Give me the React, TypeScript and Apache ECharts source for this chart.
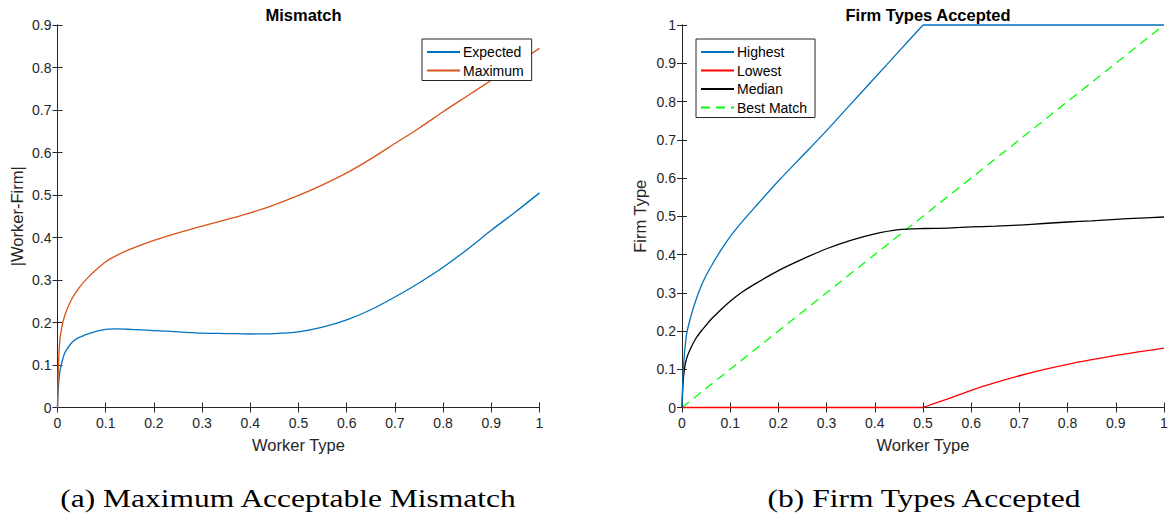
import React, { useEffect, useRef } from 'react';
import * as echarts from 'echarts';

// left panel: mismatch vs worker type
const mismatchX = [0, 0.002, 0.005, 0.01, 0.015, 0.02, 0.03, 0.04, 0.05, 0.06, 0.08, 0.1, 0.125, 0.15, 0.2, 0.25, 0.3, 0.35, 0.4, 0.45, 0.5, 0.55, 0.6, 0.65, 0.7, 0.75, 0.8, 0.85, 0.9, 0.95, 1];
const expected = [0, 0.05, 0.085, 0.11, 0.128, 0.138, 0.153, 0.162, 0.167, 0.172, 0.179, 0.184, 0.185, 0.184, 0.181, 0.178, 0.175, 0.174, 0.173, 0.174, 0.178, 0.189, 0.206, 0.23, 0.26, 0.293, 0.33, 0.372, 0.417, 0.46, 0.505];
const maximum = [0, 0.1, 0.16, 0.195, 0.216, 0.232, 0.256, 0.274, 0.289, 0.302, 0.324, 0.343, 0.359, 0.372, 0.393, 0.411, 0.427, 0.442, 0.458, 0.477, 0.499, 0.524, 0.552, 0.585, 0.621, 0.657, 0.696, 0.733, 0.77, 0.808, 0.845];

// right panel: firm types accepted
const firmX = [0, 0.002, 0.005, 0.01, 0.02, 0.03, 0.04, 0.05, 0.06, 0.08, 0.1, 0.125, 0.15, 0.2, 0.25, 0.3, 0.35, 0.4, 0.45, 0.5, 0.55, 0.6, 0.65, 0.7, 0.75, 0.8, 0.85, 0.9, 0.95, 1];
const highest = [0, 0.08, 0.14, 0.195, 0.245, 0.285, 0.318, 0.345, 0.368, 0.41, 0.447, 0.486, 0.522, 0.592, 0.658, 0.724, 0.793, 0.862, 0.931, 1, 1, 1, 1, 1, 1, 1, 1, 1, 1, 1];
const lowest = [0, 0, 0, 0, 0, 0, 0, 0, 0, 0, 0, 0, 0, 0, 0, 0, 0, 0, 0, 0, 0.022, 0.045, 0.065, 0.083, 0.099, 0.113, 0.125, 0.136, 0.146, 0.155];
const median = [0, 0.06, 0.1, 0.13, 0.16, 0.183, 0.2, 0.215, 0.23, 0.255, 0.278, 0.302, 0.322, 0.358, 0.388, 0.415, 0.437, 0.454, 0.465, 0.468, 0.469, 0.472, 0.474, 0.477, 0.481, 0.485, 0.488, 0.492, 0.495, 0.498];
const bestMatchX = [0, 1];
const bestMatchY = [0, 1];
// Highest and Lowest bend at worker type 0.5
const KINK = firmX.indexOf(0.5);

const captions = ['(a) Maximum Acceptable Mismatch', '(b) Firm Types Accepted'];

const pairs = (xs: number[], ys: number[]) => xs.map((x, i) => [x, ys[i]]);

const AXIS = '#262626';
const SANS = 'Liberation Sans, Arial, Helvetica, sans-serif';
const SERIF = 'Liberation Serif, serif';

const fmt = (v: number) => {
  const r = Math.round(v * 10) / 10;
  return r === 0 ? '0' : r === 1 ? '1' : r.toFixed(1);
};

const tick = { show: true, inside: true, length: 5, lineStyle: { color: AXIS } };
const axisLine = { show: true, lineStyle: { color: AXIS, width: 1 } };

const mainX = (gridIndex: number) => ({
  type: 'value',
  gridIndex,
  min: 0,
  max: 1,
  interval: 0.1,
  name: 'Worker Type',
  nameLocation: 'middle',
  nameGap: 29,
  nameTextStyle: { fontFamily: SANS, fontSize: 16.5, color: AXIS },
  axisLine,
  axisTick: tick,
  axisLabel: { fontFamily: SANS, fontSize: 14, color: AXIS, margin: 8, formatter: fmt },
  splitLine: { show: false },
});

const mirrorX = (gridIndex: number) => ({
  type: 'value',
  gridIndex,
  position: 'top',
  min: 0,
  max: 1,
  interval: 0.1,
  axisLine,
  axisTick: tick,
  axisLabel: { show: false },
  splitLine: { show: false },
});

const mainY = (gridIndex: number, max: number, name: string, nameGap: number) => ({
  type: 'value',
  gridIndex,
  min: 0,
  max,
  interval: 0.1,
  name,
  nameLocation: 'middle',
  nameGap,
  nameTextStyle: { fontFamily: SANS, fontSize: 16.5, color: AXIS },
  axisLine,
  axisTick: tick,
  axisLabel: { fontFamily: SANS, fontSize: 14, color: AXIS, margin: 6, formatter: fmt },
  splitLine: { show: false },
});

const mirrorY = (gridIndex: number, max: number) => ({
  type: 'value',
  gridIndex,
  position: 'right',
  min: 0,
  max,
  interval: 0.1,
  axisLine,
  axisTick: tick,
  axisLabel: { show: false },
  splitLine: { show: false },
});

const line = (name: string, data: number[][], color: string, idx: number, smooth = 0, dashed = false) => ({
  name,
  type: 'line',
  xAxisIndex: idx,
  yAxisIndex: idx,
  data,
  showSymbol: false,
  symbol: 'none',
  smooth,
  clip: false,
  lineStyle: { color, width: 1.3, type: dashed ? [9, 6] : 'solid' },
  itemStyle: { color },
});

const legendBase = {
  orient: 'vertical',
  backgroundColor: '#fff',
  borderColor: AXIS,
  borderWidth: 1,
  borderRadius: 0,
  padding: [6, 8, 3, 4],
  itemWidth: 33,
  itemHeight: 14,
  itemGap: 4.5,
  itemStyle: { opacity: 0 },
  textStyle: { fontFamily: SANS, fontSize: 14, color: '#000', padding: [0, 0, 0, -2] },
};

const App: React.FC = () => {
  const chartRef = useRef<HTMLDivElement>(null);

  useEffect(() => {
    document.body.style.margin = '0';
    if (!chartRef.current) return;
    const chart = echarts.init(chartRef.current, null, { renderer: 'svg' });

    const titleStyle = { fontFamily: SANS, fontSize: 16.5, fontWeight: 'bold', color: '#000' };
    const captionStyle = { fontFamily: SERIF, fontSize: 25, fill: '#000', align: 'center', verticalAlign: 'middle' };

    const highestPts = pairs(firmX, highest);
    const lowestPts = pairs(firmX, lowest);

    const option: any = {
      animation: false,
      backgroundColor: '#fff',
      title: [
        { text: 'Mismatch', left: 298.5, top: 1, textAlign: 'center', textStyle: titleStyle },
        { text: 'Firm Types Accepted', left: 923, top: 1, textAlign: 'center', textStyle: titleStyle },
      ],
      grid: [
        { left: 57.5, top: 25, width: 482, height: 382.5, show: false },
        { left: 682, top: 25, width: 482, height: 382.5, show: false },
      ],
      xAxis: [mainX(0), mainX(1), mirrorX(0), mirrorX(1)],
      yAxis: [
        mainY(0, 0.9, '|Worker-Firm|', 32),
        mainY(1, 1, 'Firm Type', 34),
        mirrorY(0, 0.9),
        mirrorY(1, 1),
      ],
      legend: [
        { ...legendBase, left: 422, top: 39, data: ['Expected', 'Maximum'] },
        { ...legendBase, left: 696, top: 39, data: ['Highest', 'Lowest', 'Median', 'Best Match'] },
      ],
      series: [
        line('Expected', pairs(mismatchX, expected), '#0072BD', 0, 0.3),
        line('Maximum', pairs(mismatchX, maximum), '#D95319', 0, 0.3),
        line('Best Match', pairs(bestMatchX, bestMatchY), '#00FF00', 1, 0, true),
        line('Lowest', lowestPts.slice(0, KINK + 1), '#FF0000', 1),
        line('Lowest', lowestPts.slice(KINK), '#FF0000', 1, 0.25),
        line('Median', pairs(firmX, median), '#000000', 1, 0.25),
        line('Highest', highestPts.slice(0, KINK + 1), '#0072BD', 1, 0.25),
        line('Highest', highestPts.slice(KINK), '#0072BD', 1),
      ],
      graphic: [
        { type: 'text', x: 288, y: 499, scaleX: 1.26, style: { ...captionStyle, text: captions[0] } },
        { type: 'text', x: 924, y: 499, scaleX: 1.26, style: { ...captionStyle, text: captions[1] } },
      ],
    };

    chart.setOption(option);
    return () => {
      chart.dispose();
    };
  }, []);

  return <div ref={chartRef} style={{ width: '1171px', height: '520px' }} />;
};

export default App;
